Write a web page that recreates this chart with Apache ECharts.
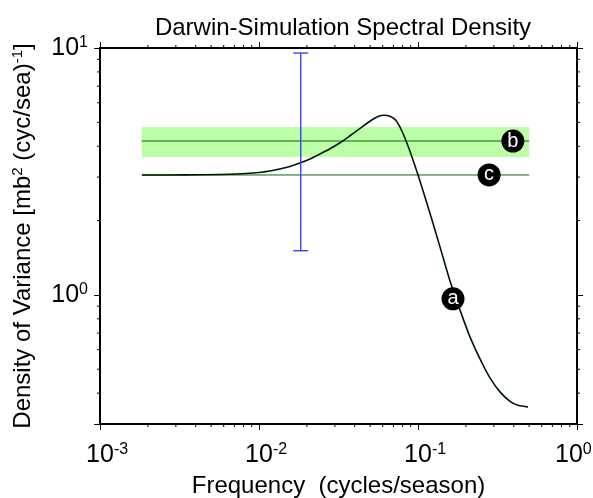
<!DOCTYPE html>
<html><head><meta charset="utf-8">
<script src="https://cdn.jsdelivr.net/npm/echarts@6/dist/echarts.min.js"></script>
<style>html,body{margin:0;padding:0;background:#fff}#c{width:593px;height:498px}</style>
</head><body><div id="c"></div>
<script>
// ---- data ----
const freq = [0.001837, 0.002756, 0.004254, 0.006572, 0.008778, 0.01173, 0.01567, 0.01811, 0.02093, 0.02418, 0.02796, 0.03231, 0.03735, 0.04317, 0.0499, 0.05604, 0.06111, 0.06666, 0.0727, 0.0793, 0.08653, 0.09302, 0.1029, 0.1225, 0.1375, 0.159, 0.1837, 0.2123, 0.2454, 0.2836, 0.3279, 0.379, 0.4256, 0.4918];
const density = [3.060, 3.060, 3.066, 3.080, 3.109, 3.177, 3.313, 3.423, 3.553, 3.723, 3.908, 4.133, 4.411, 4.722, 5.050, 5.275, 5.341, 5.290, 5.080, 4.600, 4.011, 3.521, 2.894, 2.012, 1.565, 1.139, 0.8693, 0.6760, 0.5508, 0.4613, 0.4048, 0.3706, 0.3570, 0.3520];
const bandFreq = [0.00183, 0.5];
const bandLow = 3.62, bandHigh = 4.79, bandMid = 4.2;
const cFreq = [0.00183, 0.5];
const cLevel = 3.06;
const errFreq = 0.0183, errLow = 1.51, errHigh = 9.54;
const tagLetters = ['a', 'b', 'c'];
const tagFreq = [0.166, 0.395, 0.28];
const tagDensity = [0.964, 4.2, 3.06];
const xRange = [0.001, 1];
const yRange = [0.3, 10];
const xMinorTicks = [0.002,0.003,0.004,0.005,0.006,0.007,0.008,0.009,0.02,0.03,0.04,0.05,0.06,0.07,0.08,0.09,0.2,0.3,0.4,0.5,0.6,0.7,0.8,0.9];
const yMinorTicks = [0.4,0.5,0.6,0.7,0.8,0.9,2,3,4,5,6,7,8,9];

const FONT = 'Liberation Sans, Arial, sans-serif';
function powLabel(v) {
  const l = Math.log10(v), e = Math.round(l);
  if (Math.abs(l - e) > 1e-6) return '';
  if (e === 0) return '{b|10}{s|0}{t|0}';
  return '{h|' + e + '}{b|10}{s|' + e + '}';
}
function powLabelY(v) {
  const l = Math.log10(v), e = Math.round(l);
  if (Math.abs(l - e) > 1e-6) return '';
  return '{b|10}{s|' + e + '}';
}
const richX = {
  h: {fontSize: 16, color: 'rgba(0,0,0,0)', fontFamily: FONT, verticalAlign: 'top', lineHeight: 26},
  t: {fontSize: 13, color: 'rgba(0,0,0,0)', fontFamily: FONT, verticalAlign: 'top', lineHeight: 26},
  b: {fontSize: 25, color: '#000', fontFamily: FONT, lineHeight: 26},
  s: {fontSize: 16, color: '#000', fontFamily: FONT, verticalAlign: 'top', lineHeight: 26}
};
const richY = {
  b: {fontSize: 25, color: '#000', fontFamily: FONT, lineHeight: 26},
  s: {fontSize: 16, color: '#000', fontFamily: FONT, verticalAlign: 'top', lineHeight: 26}
};
const axisLineStyle = {color: '#000', width: 2};
function baseX(pos, labels) {
  return {
    type: 'log', logBase: 10, min: xRange[0], max: xRange[1], position: pos,
    axisLine: {show: true, onZero: false, lineStyle: axisLineStyle},
    axisTick: {show: true, inside: false, length: 6, lineStyle: {color: '#000', width: 1}},
    splitLine: {show: false},
    axisLabel: labels ? {show: true, margin: 18, formatter: powLabel, rich: richX, showMinLabel: true, showMaxLabel: true, hideOverlap: false} : {show: false}
  };
}
function baseY(pos, labels) {
  return {
    type: 'log', logBase: 10, min: yRange[0], max: yRange[1], position: pos,
    axisLine: {show: true, onZero: false, lineStyle: axisLineStyle},
    axisTick: {show: true, inside: false, length: 6, lineStyle: {color: '#000', width: 1}},
    splitLine: {show: false},
    axisLabel: labels ? {show: true, margin: 12, formatter: powLabelY, rich: richY} : {show: false}
  };
}
const x0 = baseX('bottom', true);
x0.name = 'Frequency  (cycles/season)';
x0.nameLocation = 'middle';
x0.nameGap = 50;
x0.nameTextStyle = {fontSize: 24, color: '#000', fontFamily: FONT};
const y0 = baseY('left', true);
y0.name = '{n|Density of Variance [mb}{s|2}{n| (cyc/sea)}{s|-1}{n|]}';
y0.nameLocation = 'middle';
y0.nameGap = 63;
y0.nameTextStyle = {
  rich: {
    n: {fontSize: 24, color: '#000', fontFamily: FONT, lineHeight: 27},
    s: {fontSize: 15, color: '#000', fontFamily: FONT, verticalAlign: 'top', lineHeight: 27}
  }
};

const chart = echarts.init(document.getElementById('c'), null, {renderer: 'canvas'});
chart.setOption({
  animation: false,
  backgroundColor: '#fff',
  title: {text: 'Darwin-Simulation Spectral Density', left: 338, top: 11, textAlign: 'center',
    textStyle: {fontSize: 24, fontWeight: 'normal', color: '#000', fontFamily: FONT}},
  grid: {left: 100, right: 16, top: 48, bottom: 74, containLabel: false, outerBoundsMode: 'none'},
  xAxis: [x0, baseX('top', false)],
  yAxis: [y0, baseY('right', false)],
  series: [
    {
      type: 'custom', xAxisIndex: 0, yAxisIndex: 0, z: 1,
      renderItem: function (p, api) {
        const a = api.coord([api.value(0), api.value(3)]);
        const b = api.coord([api.value(1), api.value(2)]);
        return {type: 'rect', shape: {x: a[0], y: a[1], width: b[0] - a[0], height: b[1] - a[1]}, style: {fill: '#bdffa6'}};
      },
      encode: {x: [0, 1], y: [2, 3]},
      data: [[bandFreq[0], bandFreq[1], bandLow, bandHigh]]
    },
    {
      type: 'line', z: 2, showSymbol: false, symbol: 'none',
      lineStyle: {color: '#0b650b', width: 1},
      data: [[bandFreq[0], bandMid], [bandFreq[1], bandMid]]
    },
    {
      type: 'line', z: 2, showSymbol: false, symbol: 'none',
      lineStyle: {color: '#0b650b', width: 1},
      data: [[cFreq[0], cLevel], [cFreq[1], cLevel]]
    },
    {
      type: 'line', z: 3, showSymbol: false, symbol: 'none', smooth: 0.3,
      lineStyle: {color: '#001800', width: 1.6},
      data: freq.map((f, i) => [f, density[i]])
    },
    {
      type: 'custom', z: 4,
      renderItem: function (p, api) {
        const lo = api.coord([api.value(0), api.value(1)]);
        const hi = api.coord([api.value(0), api.value(2)]);
        const st = {stroke: '#4040ff', lineWidth: 1.4};
        return {type: 'group', children: [
          {type: 'line', shape: {x1: lo[0], y1: lo[1], x2: hi[0], y2: hi[1]}, style: st},
          {type: 'line', shape: {x1: lo[0] - 7.5, y1: lo[1], x2: lo[0] + 7.5, y2: lo[1]}, style: st},
          {type: 'line', shape: {x1: hi[0] - 7.5, y1: hi[1], x2: hi[0] + 7.5, y2: hi[1]}, style: st}
        ]};
      },
      encode: {x: 0, y: [1, 2]},
      data: [[errFreq, errLow, errHigh]]
    },
    {
      type: 'scatter', z: 5, symbol: 'circle', symbolSize: 23,
      itemStyle: {color: '#000', opacity: 1},
      label: {show: true, position: 'inside', formatter: '{b}', color: '#fff', fontSize: 20, fontFamily: FONT},
      data: tagLetters.map((l, i) => ({name: l, value: [tagFreq[i], tagDensity[i]]}))
    },
    {
      type: 'custom', clip: false, z: 6, silent: true,
      renderItem: function (p, api) {
        const v = api.value(0);
        const b = api.coord([v, yRange[0]]);
        const t = api.coord([v, yRange[1]]);
        const st = {stroke: '#000', lineWidth: 1};
        return {type: 'group', children: [
          {type: 'line', shape: {x1: b[0], y1: b[1], x2: b[0], y2: b[1] + 3}, style: st},
          {type: 'line', shape: {x1: t[0], y1: t[1], x2: t[0], y2: t[1] - 3}, style: st}
        ]};
      },
      encode: {x: 0, y: 1},
      data: xMinorTicks.map(v => [v, 1])
    },
    {
      type: 'custom', clip: false, z: 6, silent: true,
      renderItem: function (p, api) {
        const v = api.value(1);
        const l = api.coord([xRange[0], v]);
        const r = api.coord([xRange[1], v]);
        const st = {stroke: '#000', lineWidth: 1};
        return {type: 'group', children: [
          {type: 'line', shape: {x1: l[0], y1: l[1], x2: l[0] - 3, y2: l[1]}, style: st},
          {type: 'line', shape: {x1: r[0], y1: r[1], x2: r[0] + 3, y2: r[1]}, style: st}
        ]};
      },
      encode: {x: 0, y: 1},
      data: yMinorTicks.map(v => [0.01, v])
    }
  ]
});
</script></body></html>
